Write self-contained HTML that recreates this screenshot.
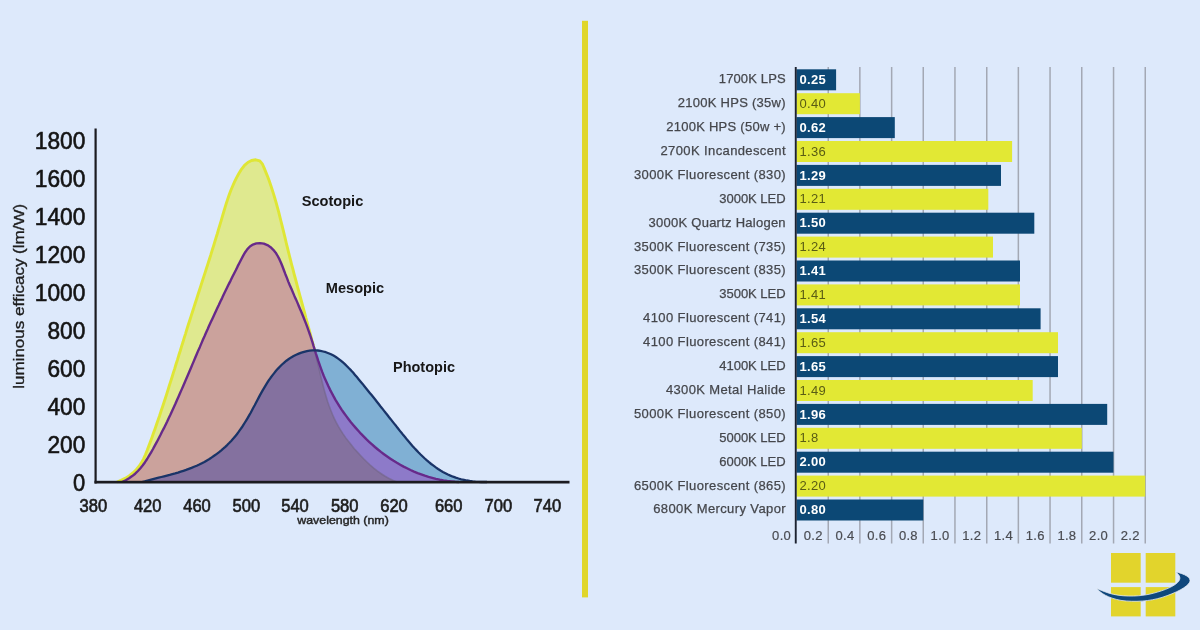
<!DOCTYPE html>
<html lang="en"><head><meta charset="utf-8">
<title>Luminous efficacy and S/P ratios</title>
<style>
html,body{margin:0;padding:0;background:#dde9fb;}
body{width:1200px;height:630px;overflow:hidden;}
svg{display:block;}
text{font-family:"Liberation Sans",sans-serif;}
.yl{font-size:23px;fill:#141414;text-anchor:end;stroke:#141414;stroke-width:0.6px;}
.xl{font-size:18px;fill:#1c1c1c;text-anchor:middle;stroke:#1c1c1c;stroke-width:0.65px;}
.cl{font-size:14.6px;font-weight:bold;fill:#171717;}
.bl{font-size:13px;fill:#45474c;text-anchor:end;stroke:#45474c;stroke-width:0.25px;}
.vn{font-size:13px;font-weight:bold;fill:#ffffff;letter-spacing:0.3px;}
.vy{font-size:13px;fill:#5a5c14;letter-spacing:0.3px;}
.al{font-size:13px;fill:#4a4c52;text-anchor:end;letter-spacing:0.3px;stroke:#4a4c52;stroke-width:0.2px;}
</style></head><body>
<svg width="1200" height="630" viewBox="0 0 1200 630">
<rect x="0" y="0" width="1200" height="630" fill="#dde9fb"/>
<defs>
<clipPath id="cs"><path d="M117.0,482.0 L121.0,480.4 L125.1,478.4 L129.1,475.9 L132.8,473.0 L136.2,469.8 L139.1,466.3 L141.5,462.6 L143.7,458.6 L145.5,454.5 L147.2,450.3 L148.8,446.0 L150.4,441.7 L152.0,437.4 L153.5,433.1 L155.0,428.9 L156.5,424.6 L158.0,420.3 L159.5,416.0 L160.9,411.6 L162.4,407.3 L163.8,403.0 L165.2,398.7 L166.6,394.4 L168.0,390.0 L169.3,385.7 L170.7,381.4 L172.1,377.0 L173.4,372.7 L174.8,368.4 L176.1,364.0 L177.5,359.7 L178.8,355.3 L180.2,351.0 L181.5,346.6 L182.9,342.3 L184.2,337.9 L185.6,333.6 L186.9,329.2 L188.3,324.8 L189.7,320.5 L191.1,316.1 L192.5,311.8 L193.9,307.4 L195.3,303.0 L196.7,298.7 L198.1,294.3 L199.5,290.0 L200.9,285.6 L202.3,281.3 L203.7,276.9 L205.1,272.6 L206.5,268.2 L207.9,263.9 L209.3,259.5 L210.7,255.2 L212.0,250.8 L213.4,246.5 L214.7,242.2 L216.0,237.8 L217.4,233.5 L218.6,229.2 L219.9,224.9 L221.2,220.6 L222.4,216.3 L223.7,212.0 L225.0,207.7 L226.3,203.4 L227.7,199.1 L229.2,194.8 L230.8,190.5 L232.6,186.2 L234.5,181.9 L236.6,177.6 L239.0,173.3 L241.6,169.1 L244.5,165.4 L247.8,162.5 L251.5,160.5 L255.7,159.8 L259.8,160.9 L262.5,164.2 L264.3,168.4 L266.0,172.6 L267.7,176.8 L269.3,181.1 L270.8,185.4 L272.2,189.8 L273.6,194.1 L274.9,198.5 L276.2,202.9 L277.4,207.3 L278.6,211.7 L279.7,216.1 L280.8,220.5 L281.9,224.9 L283.0,229.4 L284.1,233.8 L285.2,238.3 L286.2,242.7 L287.3,247.1 L288.4,251.6 L289.5,256.0 L290.6,260.4 L291.7,264.8 L292.9,269.2 L294.0,273.6 L295.2,278.0 L296.4,282.4 L297.5,286.8 L298.7,291.2 L299.9,295.6 L301.1,300.0 L302.3,304.4 L303.5,308.8 L304.7,313.2 L305.8,317.6 L307.0,321.9 L308.2,326.3 L309.4,330.7 L310.6,335.1 L311.7,339.6 L312.9,344.0 L314.0,348.4 L315.1,352.8 L316.2,357.2 L317.3,361.7 L318.4,366.1 L319.5,370.6 L320.5,375.1 L321.6,379.5 L322.7,384.0 L323.8,388.4 L325.0,392.8 L326.3,397.2 L327.6,401.5 L329.1,405.8 L330.7,410.0 L332.4,414.2 L334.2,418.3 L336.2,422.4 L338.4,426.4 L340.8,430.3 L343.2,434.1 L345.8,437.9 L348.6,441.5 L351.4,445.1 L354.3,448.7 L357.4,452.1 L360.5,455.5 L363.6,458.8 L366.9,462.0 L370.2,465.1 L373.7,468.1 L377.2,470.9 L380.9,473.5 L384.7,476.0 L388.6,478.2 L392.7,480.2 L397.0,482.0 Z"/></clipPath>
<clipPath id="cm"><path d="M122.0,482.0 L125.7,480.3 L129.1,478.3 L132.2,476.1 L135.2,473.7 L137.9,471.0 L140.4,468.2 L142.8,465.3 L145.0,462.2 L147.1,459.0 L149.1,455.7 L151.1,452.3 L153.0,449.0 L154.8,445.6 L156.7,442.2 L158.5,438.7 L160.3,435.3 L162.0,431.8 L163.8,428.4 L165.5,424.9 L167.2,421.4 L168.8,417.9 L170.5,414.4 L172.1,410.9 L173.8,407.3 L175.4,403.8 L176.9,400.2 L178.5,396.7 L180.1,393.1 L181.6,389.6 L183.2,386.0 L184.7,382.5 L186.2,378.9 L187.8,375.3 L189.3,371.8 L190.8,368.2 L192.3,364.6 L193.8,361.1 L195.3,357.5 L196.8,354.0 L198.3,350.4 L199.9,346.9 L201.4,343.4 L202.9,339.8 L204.5,336.3 L206.0,332.8 L207.6,329.3 L209.1,325.8 L210.7,322.3 L212.3,318.9 L213.9,315.4 L215.5,311.9 L217.1,308.5 L218.8,305.0 L220.4,301.5 L222.1,298.1 L223.7,294.6 L225.4,291.1 L227.1,287.6 L228.8,284.1 L230.6,280.6 L232.3,277.1 L234.1,273.5 L235.9,270.0 L237.6,266.4 L239.5,262.8 L241.3,259.2 L243.2,255.6 L245.2,252.2 L247.4,249.1 L249.9,246.5 L252.9,244.6 L256.3,243.4 L260.0,243.1 L263.8,243.6 L267.4,245.1 L270.6,247.2 L273.3,249.8 L275.7,252.7 L277.7,256.0 L279.5,259.4 L281.1,263.0 L282.6,266.8 L284.0,270.5 L285.4,274.2 L286.9,277.9 L288.3,281.6 L289.8,285.2 L291.4,288.8 L292.9,292.4 L294.4,295.9 L296.0,299.4 L297.5,302.9 L299.0,306.5 L300.5,310.0 L302.0,313.5 L303.4,317.0 L304.8,320.6 L306.2,324.1 L307.5,327.7 L308.8,331.3 L310.1,335.0 L311.3,338.7 L312.5,342.3 L313.6,346.1 L314.8,349.8 L315.9,353.5 L317.1,357.2 L318.3,360.9 L319.6,364.6 L320.9,368.3 L322.2,371.9 L323.6,375.5 L325.1,379.1 L326.7,382.6 L328.3,386.1 L330.0,389.6 L331.8,393.0 L333.6,396.4 L335.5,399.8 L337.5,403.1 L339.5,406.3 L341.6,409.6 L343.8,412.7 L346.1,415.9 L348.4,419.0 L350.7,422.0 L353.2,425.0 L355.7,427.9 L358.3,430.8 L360.9,433.7 L363.6,436.4 L366.3,439.2 L369.1,441.8 L372.0,444.4 L374.9,447.0 L377.9,449.5 L380.9,451.9 L384.0,454.2 L387.2,456.5 L390.4,458.7 L393.6,460.8 L396.9,462.8 L400.2,464.7 L403.6,466.6 L407.0,468.3 L410.5,470.0 L414.0,471.6 L417.6,473.1 L421.2,474.4 L424.8,475.7 L428.5,476.9 L432.2,477.9 L435.9,478.9 L439.7,479.7 L443.5,480.4 L447.3,481.0 L451.2,481.4 L455.1,481.8 L459.0,482.0 Z"/></clipPath>
<clipPath id="cp"><path d="M142.0,482.0 L144.7,481.3 L147.5,480.5 L150.2,479.8 L153.0,479.1 L155.8,478.4 L158.6,477.7 L161.3,477.0 L164.1,476.3 L166.9,475.6 L169.7,474.9 L172.4,474.1 L175.2,473.4 L178.0,472.6 L180.7,471.7 L183.4,470.8 L186.1,469.9 L188.8,468.9 L191.5,467.9 L194.1,466.8 L196.7,465.7 L199.3,464.5 L201.9,463.2 L204.4,461.9 L206.9,460.4 L209.4,459.0 L211.8,457.4 L214.1,455.8 L216.5,454.1 L218.8,452.4 L221.0,450.6 L223.2,448.7 L225.3,446.8 L227.4,444.8 L229.4,442.8 L231.4,440.7 L233.3,438.6 L235.1,436.4 L236.9,434.2 L238.6,431.9 L240.2,429.6 L241.9,427.3 L243.4,424.9 L244.9,422.5 L246.4,420.1 L247.9,417.6 L249.3,415.2 L250.7,412.7 L252.0,410.2 L253.3,407.7 L254.7,405.2 L256.0,402.7 L257.3,400.2 L258.7,397.6 L260.0,395.1 L261.4,392.6 L262.8,390.1 L264.3,387.6 L265.8,385.1 L267.3,382.7 L268.9,380.2 L270.6,377.8 L272.4,375.4 L274.2,373.1 L276.0,370.8 L278.0,368.6 L280.0,366.5 L282.0,364.5 L284.2,362.6 L286.4,360.7 L288.8,359.0 L291.2,357.4 L293.6,356.0 L296.2,354.7 L298.8,353.6 L301.4,352.6 L304.1,351.8 L306.9,351.1 L309.6,350.7 L312.4,350.4 L315.1,350.4 L317.8,350.5 L320.5,350.9 L323.2,351.5 L325.9,352.2 L328.5,353.2 L331.0,354.3 L333.5,355.6 L335.9,357.0 L338.2,358.6 L340.5,360.3 L342.7,362.2 L344.9,364.1 L347.0,366.2 L349.0,368.3 L351.1,370.4 L353.1,372.6 L355.0,374.9 L356.9,377.1 L358.8,379.4 L360.7,381.7 L362.6,383.9 L364.4,386.2 L366.2,388.4 L368.0,390.7 L369.8,392.9 L371.6,395.1 L373.4,397.3 L375.2,399.5 L376.9,401.7 L378.7,404.0 L380.4,406.2 L382.2,408.4 L383.9,410.6 L385.6,412.8 L387.4,415.0 L389.1,417.2 L390.9,419.4 L392.6,421.6 L394.4,423.9 L396.2,426.1 L397.9,428.3 L399.7,430.6 L401.5,432.8 L403.3,435.1 L405.2,437.3 L407.0,439.6 L408.9,441.8 L410.8,444.0 L412.7,446.2 L414.6,448.3 L416.6,450.4 L418.6,452.5 L420.6,454.5 L422.7,456.5 L424.8,458.5 L426.9,460.4 L429.0,462.2 L431.2,464.0 L433.5,465.7 L435.8,467.4 L438.1,469.0 L440.5,470.5 L442.9,471.9 L445.4,473.2 L447.9,474.5 L450.4,475.6 L453.1,476.7 L455.7,477.6 L458.5,478.5 L461.2,479.3 L464.0,479.9 L466.8,480.5 L469.7,481.0 L472.6,481.4 L475.4,481.7 L478.3,481.9 L481.2,482.0 L484.1,482.0 L487.0,482.0 Z"/></clipPath>
</defs>
<g>
<path d="M117.0,482.0 L121.0,480.4 L125.1,478.4 L129.1,475.9 L132.8,473.0 L136.2,469.8 L139.1,466.3 L141.5,462.6 L143.7,458.6 L145.5,454.5 L147.2,450.3 L148.8,446.0 L150.4,441.7 L152.0,437.4 L153.5,433.1 L155.0,428.9 L156.5,424.6 L158.0,420.3 L159.5,416.0 L160.9,411.6 L162.4,407.3 L163.8,403.0 L165.2,398.7 L166.6,394.4 L168.0,390.0 L169.3,385.7 L170.7,381.4 L172.1,377.0 L173.4,372.7 L174.8,368.4 L176.1,364.0 L177.5,359.7 L178.8,355.3 L180.2,351.0 L181.5,346.6 L182.9,342.3 L184.2,337.9 L185.6,333.6 L186.9,329.2 L188.3,324.8 L189.7,320.5 L191.1,316.1 L192.5,311.8 L193.9,307.4 L195.3,303.0 L196.7,298.7 L198.1,294.3 L199.5,290.0 L200.9,285.6 L202.3,281.3 L203.7,276.9 L205.1,272.6 L206.5,268.2 L207.9,263.9 L209.3,259.5 L210.7,255.2 L212.0,250.8 L213.4,246.5 L214.7,242.2 L216.0,237.8 L217.4,233.5 L218.6,229.2 L219.9,224.9 L221.2,220.6 L222.4,216.3 L223.7,212.0 L225.0,207.7 L226.3,203.4 L227.7,199.1 L229.2,194.8 L230.8,190.5 L232.6,186.2 L234.5,181.9 L236.6,177.6 L239.0,173.3 L241.6,169.1 L244.5,165.4 L247.8,162.5 L251.5,160.5 L255.7,159.8 L259.8,160.9 L262.5,164.2 L264.3,168.4 L266.0,172.6 L267.7,176.8 L269.3,181.1 L270.8,185.4 L272.2,189.8 L273.6,194.1 L274.9,198.5 L276.2,202.9 L277.4,207.3 L278.6,211.7 L279.7,216.1 L280.8,220.5 L281.9,224.9 L283.0,229.4 L284.1,233.8 L285.2,238.3 L286.2,242.7 L287.3,247.1 L288.4,251.6 L289.5,256.0 L290.6,260.4 L291.7,264.8 L292.9,269.2 L294.0,273.6 L295.2,278.0 L296.4,282.4 L297.5,286.8 L298.7,291.2 L299.9,295.6 L301.1,300.0 L302.3,304.4 L303.5,308.8 L304.7,313.2 L305.8,317.6 L307.0,321.9 L308.2,326.3 L309.4,330.7 L310.6,335.1 L311.7,339.6 L312.9,344.0 L314.0,348.4 L315.1,352.8 L316.2,357.2 L317.3,361.7 L318.4,366.1 L319.5,370.6 L320.5,375.1 L321.6,379.5 L322.7,384.0 L323.8,388.4 L325.0,392.8 L326.3,397.2 L327.6,401.5 L329.1,405.8 L330.7,410.0 L332.4,414.2 L334.2,418.3 L336.2,422.4 L338.4,426.4 L340.8,430.3 L343.2,434.1 L345.8,437.9 L348.6,441.5 L351.4,445.1 L354.3,448.7 L357.4,452.1 L360.5,455.5 L363.6,458.8 L366.9,462.0 L370.2,465.1 L373.7,468.1 L377.2,470.9 L380.9,473.5 L384.7,476.0 L388.6,478.2 L392.7,480.2 L397.0,482.0 Z" fill="#dfe98f"/>
<path d="M117.0,482.0 L121.0,480.4 L125.1,478.4 L129.1,475.9 L132.8,473.0 L136.2,469.8 L139.1,466.3 L141.5,462.6 L143.7,458.6 L145.5,454.5 L147.2,450.3 L148.8,446.0 L150.4,441.7 L152.0,437.4 L153.5,433.1 L155.0,428.9 L156.5,424.6 L158.0,420.3 L159.5,416.0 L160.9,411.6 L162.4,407.3 L163.8,403.0 L165.2,398.7 L166.6,394.4 L168.0,390.0 L169.3,385.7 L170.7,381.4 L172.1,377.0 L173.4,372.7 L174.8,368.4 L176.1,364.0 L177.5,359.7 L178.8,355.3 L180.2,351.0 L181.5,346.6 L182.9,342.3 L184.2,337.9 L185.6,333.6 L186.9,329.2 L188.3,324.8 L189.7,320.5 L191.1,316.1 L192.5,311.8 L193.9,307.4 L195.3,303.0 L196.7,298.7 L198.1,294.3 L199.5,290.0 L200.9,285.6 L202.3,281.3 L203.7,276.9 L205.1,272.6 L206.5,268.2 L207.9,263.9 L209.3,259.5 L210.7,255.2 L212.0,250.8 L213.4,246.5 L214.7,242.2 L216.0,237.8 L217.4,233.5 L218.6,229.2 L219.9,224.9 L221.2,220.6 L222.4,216.3 L223.7,212.0 L225.0,207.7 L226.3,203.4 L227.7,199.1 L229.2,194.8 L230.8,190.5 L232.6,186.2 L234.5,181.9 L236.6,177.6 L239.0,173.3 L241.6,169.1 L244.5,165.4 L247.8,162.5 L251.5,160.5 L255.7,159.8 L259.8,160.9 L262.5,164.2 L264.3,168.4 L266.0,172.6 L267.7,176.8 L269.3,181.1 L270.8,185.4 L272.2,189.8 L273.6,194.1 L274.9,198.5 L276.2,202.9 L277.4,207.3 L278.6,211.7 L279.7,216.1 L280.8,220.5 L281.9,224.9 L283.0,229.4 L284.1,233.8 L285.2,238.3 L286.2,242.7 L287.3,247.1 L288.4,251.6 L289.5,256.0 L290.6,260.4 L291.7,264.8 L292.9,269.2 L294.0,273.6 L295.2,278.0 L296.4,282.4 L297.5,286.8 L298.7,291.2 L299.9,295.6 L301.1,300.0 L302.3,304.4 L303.5,308.8 L304.7,313.2 L305.8,317.6 L307.0,321.9 L308.2,326.3 L309.4,330.7 L310.6,335.1 L311.7,339.6 L312.9,344.0 L314.0,348.4 L315.1,352.8 L316.2,357.2 L317.3,361.7 L318.4,366.1 L319.5,370.6 L320.5,375.1 L321.6,379.5 L322.7,384.0 L323.8,388.4 L325.0,392.8 L326.3,397.2 L327.6,401.5 L329.1,405.8 L330.7,410.0 L332.4,414.2 L334.2,418.3 L336.2,422.4 L338.4,426.4 L340.8,430.3 L343.2,434.1 L345.8,437.9 L348.6,441.5 L351.4,445.1 L354.3,448.7 L357.4,452.1 L360.5,455.5 L363.6,458.8 L366.9,462.0 L370.2,465.1 L373.7,468.1 L377.2,470.9 L380.9,473.5 L384.7,476.0 L388.6,478.2 L392.7,480.2 L397.0,482.0" fill="none" stroke="#dfe636" stroke-width="2.9" stroke-linejoin="round"/>
<path d="M122.0,482.0 L125.7,480.3 L129.1,478.3 L132.2,476.1 L135.2,473.7 L137.9,471.0 L140.4,468.2 L142.8,465.3 L145.0,462.2 L147.1,459.0 L149.1,455.7 L151.1,452.3 L153.0,449.0 L154.8,445.6 L156.7,442.2 L158.5,438.7 L160.3,435.3 L162.0,431.8 L163.8,428.4 L165.5,424.9 L167.2,421.4 L168.8,417.9 L170.5,414.4 L172.1,410.9 L173.8,407.3 L175.4,403.8 L176.9,400.2 L178.5,396.7 L180.1,393.1 L181.6,389.6 L183.2,386.0 L184.7,382.5 L186.2,378.9 L187.8,375.3 L189.3,371.8 L190.8,368.2 L192.3,364.6 L193.8,361.1 L195.3,357.5 L196.8,354.0 L198.3,350.4 L199.9,346.9 L201.4,343.4 L202.9,339.8 L204.5,336.3 L206.0,332.8 L207.6,329.3 L209.1,325.8 L210.7,322.3 L212.3,318.9 L213.9,315.4 L215.5,311.9 L217.1,308.5 L218.8,305.0 L220.4,301.5 L222.1,298.1 L223.7,294.6 L225.4,291.1 L227.1,287.6 L228.8,284.1 L230.6,280.6 L232.3,277.1 L234.1,273.5 L235.9,270.0 L237.6,266.4 L239.5,262.8 L241.3,259.2 L243.2,255.6 L245.2,252.2 L247.4,249.1 L249.9,246.5 L252.9,244.6 L256.3,243.4 L260.0,243.1 L263.8,243.6 L267.4,245.1 L270.6,247.2 L273.3,249.8 L275.7,252.7 L277.7,256.0 L279.5,259.4 L281.1,263.0 L282.6,266.8 L284.0,270.5 L285.4,274.2 L286.9,277.9 L288.3,281.6 L289.8,285.2 L291.4,288.8 L292.9,292.4 L294.4,295.9 L296.0,299.4 L297.5,302.9 L299.0,306.5 L300.5,310.0 L302.0,313.5 L303.4,317.0 L304.8,320.6 L306.2,324.1 L307.5,327.7 L308.8,331.3 L310.1,335.0 L311.3,338.7 L312.5,342.3 L313.6,346.1 L314.8,349.8 L315.9,353.5 L317.1,357.2 L318.3,360.9 L319.6,364.6 L320.9,368.3 L322.2,371.9 L323.6,375.5 L325.1,379.1 L326.7,382.6 L328.3,386.1 L330.0,389.6 L331.8,393.0 L333.6,396.4 L335.5,399.8 L337.5,403.1 L339.5,406.3 L341.6,409.6 L343.8,412.7 L346.1,415.9 L348.4,419.0 L350.7,422.0 L353.2,425.0 L355.7,427.9 L358.3,430.8 L360.9,433.7 L363.6,436.4 L366.3,439.2 L369.1,441.8 L372.0,444.4 L374.9,447.0 L377.9,449.5 L380.9,451.9 L384.0,454.2 L387.2,456.5 L390.4,458.7 L393.6,460.8 L396.9,462.8 L400.2,464.7 L403.6,466.6 L407.0,468.3 L410.5,470.0 L414.0,471.6 L417.6,473.1 L421.2,474.4 L424.8,475.7 L428.5,476.9 L432.2,477.9 L435.9,478.9 L439.7,479.7 L443.5,480.4 L447.3,481.0 L451.2,481.4 L455.1,481.8 L459.0,482.0 Z" fill="#cba29c"/>
<path d="M142.0,482.0 L144.7,481.3 L147.5,480.5 L150.2,479.8 L153.0,479.1 L155.8,478.4 L158.6,477.7 L161.3,477.0 L164.1,476.3 L166.9,475.6 L169.7,474.9 L172.4,474.1 L175.2,473.4 L178.0,472.6 L180.7,471.7 L183.4,470.8 L186.1,469.9 L188.8,468.9 L191.5,467.9 L194.1,466.8 L196.7,465.7 L199.3,464.5 L201.9,463.2 L204.4,461.9 L206.9,460.4 L209.4,459.0 L211.8,457.4 L214.1,455.8 L216.5,454.1 L218.8,452.4 L221.0,450.6 L223.2,448.7 L225.3,446.8 L227.4,444.8 L229.4,442.8 L231.4,440.7 L233.3,438.6 L235.1,436.4 L236.9,434.2 L238.6,431.9 L240.2,429.6 L241.9,427.3 L243.4,424.9 L244.9,422.5 L246.4,420.1 L247.9,417.6 L249.3,415.2 L250.7,412.7 L252.0,410.2 L253.3,407.7 L254.7,405.2 L256.0,402.7 L257.3,400.2 L258.7,397.6 L260.0,395.1 L261.4,392.6 L262.8,390.1 L264.3,387.6 L265.8,385.1 L267.3,382.7 L268.9,380.2 L270.6,377.8 L272.4,375.4 L274.2,373.1 L276.0,370.8 L278.0,368.6 L280.0,366.5 L282.0,364.5 L284.2,362.6 L286.4,360.7 L288.8,359.0 L291.2,357.4 L293.6,356.0 L296.2,354.7 L298.8,353.6 L301.4,352.6 L304.1,351.8 L306.9,351.1 L309.6,350.7 L312.4,350.4 L315.1,350.4 L317.8,350.5 L320.5,350.9 L323.2,351.5 L325.9,352.2 L328.5,353.2 L331.0,354.3 L333.5,355.6 L335.9,357.0 L338.2,358.6 L340.5,360.3 L342.7,362.2 L344.9,364.1 L347.0,366.2 L349.0,368.3 L351.1,370.4 L353.1,372.6 L355.0,374.9 L356.9,377.1 L358.8,379.4 L360.7,381.7 L362.6,383.9 L364.4,386.2 L366.2,388.4 L368.0,390.7 L369.8,392.9 L371.6,395.1 L373.4,397.3 L375.2,399.5 L376.9,401.7 L378.7,404.0 L380.4,406.2 L382.2,408.4 L383.9,410.6 L385.6,412.8 L387.4,415.0 L389.1,417.2 L390.9,419.4 L392.6,421.6 L394.4,423.9 L396.2,426.1 L397.9,428.3 L399.7,430.6 L401.5,432.8 L403.3,435.1 L405.2,437.3 L407.0,439.6 L408.9,441.8 L410.8,444.0 L412.7,446.2 L414.6,448.3 L416.6,450.4 L418.6,452.5 L420.6,454.5 L422.7,456.5 L424.8,458.5 L426.9,460.4 L429.0,462.2 L431.2,464.0 L433.5,465.7 L435.8,467.4 L438.1,469.0 L440.5,470.5 L442.9,471.9 L445.4,473.2 L447.9,474.5 L450.4,475.6 L453.1,476.7 L455.7,477.6 L458.5,478.5 L461.2,479.3 L464.0,479.9 L466.8,480.5 L469.7,481.0 L472.6,481.4 L475.4,481.7 L478.3,481.9 L481.2,482.0 L484.1,482.0 L487.0,482.0 Z" fill="#80b0d4"/>
<g clip-path="url(#cp)"><path d="M122.0,482.0 L125.7,480.3 L129.1,478.3 L132.2,476.1 L135.2,473.7 L137.9,471.0 L140.4,468.2 L142.8,465.3 L145.0,462.2 L147.1,459.0 L149.1,455.7 L151.1,452.3 L153.0,449.0 L154.8,445.6 L156.7,442.2 L158.5,438.7 L160.3,435.3 L162.0,431.8 L163.8,428.4 L165.5,424.9 L167.2,421.4 L168.8,417.9 L170.5,414.4 L172.1,410.9 L173.8,407.3 L175.4,403.8 L176.9,400.2 L178.5,396.7 L180.1,393.1 L181.6,389.6 L183.2,386.0 L184.7,382.5 L186.2,378.9 L187.8,375.3 L189.3,371.8 L190.8,368.2 L192.3,364.6 L193.8,361.1 L195.3,357.5 L196.8,354.0 L198.3,350.4 L199.9,346.9 L201.4,343.4 L202.9,339.8 L204.5,336.3 L206.0,332.8 L207.6,329.3 L209.1,325.8 L210.7,322.3 L212.3,318.9 L213.9,315.4 L215.5,311.9 L217.1,308.5 L218.8,305.0 L220.4,301.5 L222.1,298.1 L223.7,294.6 L225.4,291.1 L227.1,287.6 L228.8,284.1 L230.6,280.6 L232.3,277.1 L234.1,273.5 L235.9,270.0 L237.6,266.4 L239.5,262.8 L241.3,259.2 L243.2,255.6 L245.2,252.2 L247.4,249.1 L249.9,246.5 L252.9,244.6 L256.3,243.4 L260.0,243.1 L263.8,243.6 L267.4,245.1 L270.6,247.2 L273.3,249.8 L275.7,252.7 L277.7,256.0 L279.5,259.4 L281.1,263.0 L282.6,266.8 L284.0,270.5 L285.4,274.2 L286.9,277.9 L288.3,281.6 L289.8,285.2 L291.4,288.8 L292.9,292.4 L294.4,295.9 L296.0,299.4 L297.5,302.9 L299.0,306.5 L300.5,310.0 L302.0,313.5 L303.4,317.0 L304.8,320.6 L306.2,324.1 L307.5,327.7 L308.8,331.3 L310.1,335.0 L311.3,338.7 L312.5,342.3 L313.6,346.1 L314.8,349.8 L315.9,353.5 L317.1,357.2 L318.3,360.9 L319.6,364.6 L320.9,368.3 L322.2,371.9 L323.6,375.5 L325.1,379.1 L326.7,382.6 L328.3,386.1 L330.0,389.6 L331.8,393.0 L333.6,396.4 L335.5,399.8 L337.5,403.1 L339.5,406.3 L341.6,409.6 L343.8,412.7 L346.1,415.9 L348.4,419.0 L350.7,422.0 L353.2,425.0 L355.7,427.9 L358.3,430.8 L360.9,433.7 L363.6,436.4 L366.3,439.2 L369.1,441.8 L372.0,444.4 L374.9,447.0 L377.9,449.5 L380.9,451.9 L384.0,454.2 L387.2,456.5 L390.4,458.7 L393.6,460.8 L396.9,462.8 L400.2,464.7 L403.6,466.6 L407.0,468.3 L410.5,470.0 L414.0,471.6 L417.6,473.1 L421.2,474.4 L424.8,475.7 L428.5,476.9 L432.2,477.9 L435.9,478.9 L439.7,479.7 L443.5,480.4 L447.3,481.0 L451.2,481.4 L455.1,481.8 L459.0,482.0 Z" fill="#8d7ac9"/></g>
<g clip-path="url(#cp)"><g clip-path="url(#cm)"><path d="M117.0,482.0 L121.0,480.4 L125.1,478.4 L129.1,475.9 L132.8,473.0 L136.2,469.8 L139.1,466.3 L141.5,462.6 L143.7,458.6 L145.5,454.5 L147.2,450.3 L148.8,446.0 L150.4,441.7 L152.0,437.4 L153.5,433.1 L155.0,428.9 L156.5,424.6 L158.0,420.3 L159.5,416.0 L160.9,411.6 L162.4,407.3 L163.8,403.0 L165.2,398.7 L166.6,394.4 L168.0,390.0 L169.3,385.7 L170.7,381.4 L172.1,377.0 L173.4,372.7 L174.8,368.4 L176.1,364.0 L177.5,359.7 L178.8,355.3 L180.2,351.0 L181.5,346.6 L182.9,342.3 L184.2,337.9 L185.6,333.6 L186.9,329.2 L188.3,324.8 L189.7,320.5 L191.1,316.1 L192.5,311.8 L193.9,307.4 L195.3,303.0 L196.7,298.7 L198.1,294.3 L199.5,290.0 L200.9,285.6 L202.3,281.3 L203.7,276.9 L205.1,272.6 L206.5,268.2 L207.9,263.9 L209.3,259.5 L210.7,255.2 L212.0,250.8 L213.4,246.5 L214.7,242.2 L216.0,237.8 L217.4,233.5 L218.6,229.2 L219.9,224.9 L221.2,220.6 L222.4,216.3 L223.7,212.0 L225.0,207.7 L226.3,203.4 L227.7,199.1 L229.2,194.8 L230.8,190.5 L232.6,186.2 L234.5,181.9 L236.6,177.6 L239.0,173.3 L241.6,169.1 L244.5,165.4 L247.8,162.5 L251.5,160.5 L255.7,159.8 L259.8,160.9 L262.5,164.2 L264.3,168.4 L266.0,172.6 L267.7,176.8 L269.3,181.1 L270.8,185.4 L272.2,189.8 L273.6,194.1 L274.9,198.5 L276.2,202.9 L277.4,207.3 L278.6,211.7 L279.7,216.1 L280.8,220.5 L281.9,224.9 L283.0,229.4 L284.1,233.8 L285.2,238.3 L286.2,242.7 L287.3,247.1 L288.4,251.6 L289.5,256.0 L290.6,260.4 L291.7,264.8 L292.9,269.2 L294.0,273.6 L295.2,278.0 L296.4,282.4 L297.5,286.8 L298.7,291.2 L299.9,295.6 L301.1,300.0 L302.3,304.4 L303.5,308.8 L304.7,313.2 L305.8,317.6 L307.0,321.9 L308.2,326.3 L309.4,330.7 L310.6,335.1 L311.7,339.6 L312.9,344.0 L314.0,348.4 L315.1,352.8 L316.2,357.2 L317.3,361.7 L318.4,366.1 L319.5,370.6 L320.5,375.1 L321.6,379.5 L322.7,384.0 L323.8,388.4 L325.0,392.8 L326.3,397.2 L327.6,401.5 L329.1,405.8 L330.7,410.0 L332.4,414.2 L334.2,418.3 L336.2,422.4 L338.4,426.4 L340.8,430.3 L343.2,434.1 L345.8,437.9 L348.6,441.5 L351.4,445.1 L354.3,448.7 L357.4,452.1 L360.5,455.5 L363.6,458.8 L366.9,462.0 L370.2,465.1 L373.7,468.1 L377.2,470.9 L380.9,473.5 L384.7,476.0 L388.6,478.2 L392.7,480.2 L397.0,482.0 Z" fill="#84719f"/></g></g>
<g clip-path="url(#cp)"><path d="M117.0,482.0 L121.0,480.4 L125.1,478.4 L129.1,475.9 L132.8,473.0 L136.2,469.8 L139.1,466.3 L141.5,462.6 L143.7,458.6 L145.5,454.5 L147.2,450.3 L148.8,446.0 L150.4,441.7 L152.0,437.4 L153.5,433.1 L155.0,428.9 L156.5,424.6 L158.0,420.3 L159.5,416.0 L160.9,411.6 L162.4,407.3 L163.8,403.0 L165.2,398.7 L166.6,394.4 L168.0,390.0 L169.3,385.7 L170.7,381.4 L172.1,377.0 L173.4,372.7 L174.8,368.4 L176.1,364.0 L177.5,359.7 L178.8,355.3 L180.2,351.0 L181.5,346.6 L182.9,342.3 L184.2,337.9 L185.6,333.6 L186.9,329.2 L188.3,324.8 L189.7,320.5 L191.1,316.1 L192.5,311.8 L193.9,307.4 L195.3,303.0 L196.7,298.7 L198.1,294.3 L199.5,290.0 L200.9,285.6 L202.3,281.3 L203.7,276.9 L205.1,272.6 L206.5,268.2 L207.9,263.9 L209.3,259.5 L210.7,255.2 L212.0,250.8 L213.4,246.5 L214.7,242.2 L216.0,237.8 L217.4,233.5 L218.6,229.2 L219.9,224.9 L221.2,220.6 L222.4,216.3 L223.7,212.0 L225.0,207.7 L226.3,203.4 L227.7,199.1 L229.2,194.8 L230.8,190.5 L232.6,186.2 L234.5,181.9 L236.6,177.6 L239.0,173.3 L241.6,169.1 L244.5,165.4 L247.8,162.5 L251.5,160.5 L255.7,159.8 L259.8,160.9 L262.5,164.2 L264.3,168.4 L266.0,172.6 L267.7,176.8 L269.3,181.1 L270.8,185.4 L272.2,189.8 L273.6,194.1 L274.9,198.5 L276.2,202.9 L277.4,207.3 L278.6,211.7 L279.7,216.1 L280.8,220.5 L281.9,224.9 L283.0,229.4 L284.1,233.8 L285.2,238.3 L286.2,242.7 L287.3,247.1 L288.4,251.6 L289.5,256.0 L290.6,260.4 L291.7,264.8 L292.9,269.2 L294.0,273.6 L295.2,278.0 L296.4,282.4 L297.5,286.8 L298.7,291.2 L299.9,295.6 L301.1,300.0 L302.3,304.4 L303.5,308.8 L304.7,313.2 L305.8,317.6 L307.0,321.9 L308.2,326.3 L309.4,330.7 L310.6,335.1 L311.7,339.6 L312.9,344.0 L314.0,348.4 L315.1,352.8 L316.2,357.2 L317.3,361.7 L318.4,366.1 L319.5,370.6 L320.5,375.1 L321.6,379.5 L322.7,384.0 L323.8,388.4 L325.0,392.8 L326.3,397.2 L327.6,401.5 L329.1,405.8 L330.7,410.0 L332.4,414.2 L334.2,418.3 L336.2,422.4 L338.4,426.4 L340.8,430.3 L343.2,434.1 L345.8,437.9 L348.6,441.5 L351.4,445.1 L354.3,448.7 L357.4,452.1 L360.5,455.5 L363.6,458.8 L366.9,462.0 L370.2,465.1 L373.7,468.1 L377.2,470.9 L380.9,473.5 L384.7,476.0 L388.6,478.2 L392.7,480.2 L397.0,482.0" fill="none" stroke="#6f6283" stroke-opacity="0.55" stroke-width="1.6"/></g>
<path d="M122.0,482.0 L125.7,480.3 L129.1,478.3 L132.2,476.1 L135.2,473.7 L137.9,471.0 L140.4,468.2 L142.8,465.3 L145.0,462.2 L147.1,459.0 L149.1,455.7 L151.1,452.3 L153.0,449.0 L154.8,445.6 L156.7,442.2 L158.5,438.7 L160.3,435.3 L162.0,431.8 L163.8,428.4 L165.5,424.9 L167.2,421.4 L168.8,417.9 L170.5,414.4 L172.1,410.9 L173.8,407.3 L175.4,403.8 L176.9,400.2 L178.5,396.7 L180.1,393.1 L181.6,389.6 L183.2,386.0 L184.7,382.5 L186.2,378.9 L187.8,375.3 L189.3,371.8 L190.8,368.2 L192.3,364.6 L193.8,361.1 L195.3,357.5 L196.8,354.0 L198.3,350.4 L199.9,346.9 L201.4,343.4 L202.9,339.8 L204.5,336.3 L206.0,332.8 L207.6,329.3 L209.1,325.8 L210.7,322.3 L212.3,318.9 L213.9,315.4 L215.5,311.9 L217.1,308.5 L218.8,305.0 L220.4,301.5 L222.1,298.1 L223.7,294.6 L225.4,291.1 L227.1,287.6 L228.8,284.1 L230.6,280.6 L232.3,277.1 L234.1,273.5 L235.9,270.0 L237.6,266.4 L239.5,262.8 L241.3,259.2 L243.2,255.6 L245.2,252.2 L247.4,249.1 L249.9,246.5 L252.9,244.6 L256.3,243.4 L260.0,243.1 L263.8,243.6 L267.4,245.1 L270.6,247.2 L273.3,249.8 L275.7,252.7 L277.7,256.0 L279.5,259.4 L281.1,263.0 L282.6,266.8 L284.0,270.5 L285.4,274.2 L286.9,277.9 L288.3,281.6 L289.8,285.2 L291.4,288.8 L292.9,292.4 L294.4,295.9 L296.0,299.4 L297.5,302.9 L299.0,306.5 L300.5,310.0 L302.0,313.5 L303.4,317.0 L304.8,320.6 L306.2,324.1 L307.5,327.7 L308.8,331.3 L310.1,335.0 L311.3,338.7 L312.5,342.3 L313.6,346.1 L314.8,349.8 L315.9,353.5 L317.1,357.2 L318.3,360.9 L319.6,364.6 L320.9,368.3 L322.2,371.9 L323.6,375.5 L325.1,379.1 L326.7,382.6 L328.3,386.1 L330.0,389.6 L331.8,393.0 L333.6,396.4 L335.5,399.8 L337.5,403.1 L339.5,406.3 L341.6,409.6 L343.8,412.7 L346.1,415.9 L348.4,419.0 L350.7,422.0 L353.2,425.0 L355.7,427.9 L358.3,430.8 L360.9,433.7 L363.6,436.4 L366.3,439.2 L369.1,441.8 L372.0,444.4 L374.9,447.0 L377.9,449.5 L380.9,451.9 L384.0,454.2 L387.2,456.5 L390.4,458.7 L393.6,460.8 L396.9,462.8 L400.2,464.7 L403.6,466.6 L407.0,468.3 L410.5,470.0 L414.0,471.6 L417.6,473.1 L421.2,474.4 L424.8,475.7 L428.5,476.9 L432.2,477.9 L435.9,478.9 L439.7,479.7 L443.5,480.4 L447.3,481.0 L451.2,481.4 L455.1,481.8 L459.0,482.0" fill="none" stroke="#672a8a" stroke-width="2.4" stroke-linejoin="round"/>
<path d="M142.0,482.0 L144.7,481.3 L147.5,480.5 L150.2,479.8 L153.0,479.1 L155.8,478.4 L158.6,477.7 L161.3,477.0 L164.1,476.3 L166.9,475.6 L169.7,474.9 L172.4,474.1 L175.2,473.4 L178.0,472.6 L180.7,471.7 L183.4,470.8 L186.1,469.9 L188.8,468.9 L191.5,467.9 L194.1,466.8 L196.7,465.7 L199.3,464.5 L201.9,463.2 L204.4,461.9 L206.9,460.4 L209.4,459.0 L211.8,457.4 L214.1,455.8 L216.5,454.1 L218.8,452.4 L221.0,450.6 L223.2,448.7 L225.3,446.8 L227.4,444.8 L229.4,442.8 L231.4,440.7 L233.3,438.6 L235.1,436.4 L236.9,434.2 L238.6,431.9 L240.2,429.6 L241.9,427.3 L243.4,424.9 L244.9,422.5 L246.4,420.1 L247.9,417.6 L249.3,415.2 L250.7,412.7 L252.0,410.2 L253.3,407.7 L254.7,405.2 L256.0,402.7 L257.3,400.2 L258.7,397.6 L260.0,395.1 L261.4,392.6 L262.8,390.1 L264.3,387.6 L265.8,385.1 L267.3,382.7 L268.9,380.2 L270.6,377.8 L272.4,375.4 L274.2,373.1 L276.0,370.8 L278.0,368.6 L280.0,366.5 L282.0,364.5 L284.2,362.6 L286.4,360.7 L288.8,359.0 L291.2,357.4 L293.6,356.0 L296.2,354.7 L298.8,353.6 L301.4,352.6 L304.1,351.8 L306.9,351.1 L309.6,350.7 L312.4,350.4 L315.1,350.4 L317.8,350.5 L320.5,350.9 L323.2,351.5 L325.9,352.2 L328.5,353.2 L331.0,354.3 L333.5,355.6 L335.9,357.0 L338.2,358.6 L340.5,360.3 L342.7,362.2 L344.9,364.1 L347.0,366.2 L349.0,368.3 L351.1,370.4 L353.1,372.6 L355.0,374.9 L356.9,377.1 L358.8,379.4 L360.7,381.7 L362.6,383.9 L364.4,386.2 L366.2,388.4 L368.0,390.7 L369.8,392.9 L371.6,395.1 L373.4,397.3 L375.2,399.5 L376.9,401.7 L378.7,404.0 L380.4,406.2 L382.2,408.4 L383.9,410.6 L385.6,412.8 L387.4,415.0 L389.1,417.2 L390.9,419.4 L392.6,421.6 L394.4,423.9 L396.2,426.1 L397.9,428.3 L399.7,430.6 L401.5,432.8 L403.3,435.1 L405.2,437.3 L407.0,439.6 L408.9,441.8 L410.8,444.0 L412.7,446.2 L414.6,448.3 L416.6,450.4 L418.6,452.5 L420.6,454.5 L422.7,456.5 L424.8,458.5 L426.9,460.4 L429.0,462.2 L431.2,464.0 L433.5,465.7 L435.8,467.4 L438.1,469.0 L440.5,470.5 L442.9,471.9 L445.4,473.2 L447.9,474.5 L450.4,475.6 L453.1,476.7 L455.7,477.6 L458.5,478.5 L461.2,479.3 L464.0,479.9 L466.8,480.5 L469.7,481.0 L472.6,481.4 L475.4,481.7 L478.3,481.9 L481.2,482.0 L484.1,482.0 L487.0,482.0" fill="none" stroke="#1a3468" stroke-width="2.3" stroke-linejoin="round"/>
</g>
<rect x="94.5" y="128.5" width="2.2" height="355" fill="#1b1b20"/>
<rect x="94.5" y="480.8" width="475" height="2.7" fill="#1b1b20"/>
<text class="yl" x="85.3" y="149.3" textLength="50.5" lengthAdjust="spacingAndGlyphs">1800</text>
<text class="yl" x="85.3" y="187.2" textLength="50.5" lengthAdjust="spacingAndGlyphs">1600</text>
<text class="yl" x="85.3" y="225.2" textLength="50.5" lengthAdjust="spacingAndGlyphs">1400</text>
<text class="yl" x="85.3" y="263.2" textLength="50.5" lengthAdjust="spacingAndGlyphs">1200</text>
<text class="yl" x="85.3" y="301.1" textLength="50.5" lengthAdjust="spacingAndGlyphs">1000</text>
<text class="yl" x="85.3" y="339.1" textLength="37.8" lengthAdjust="spacingAndGlyphs">800</text>
<text class="yl" x="85.3" y="377.0" textLength="37.8" lengthAdjust="spacingAndGlyphs">600</text>
<text class="yl" x="85.3" y="415.0" textLength="37.8" lengthAdjust="spacingAndGlyphs">400</text>
<text class="yl" x="85.3" y="452.9" textLength="37.8" lengthAdjust="spacingAndGlyphs">200</text>
<text class="yl" x="85.3" y="490.9" textLength="12.2" lengthAdjust="spacingAndGlyphs">0</text>
<text class="xl" x="93.3" y="512.2" textLength="27.6" lengthAdjust="spacingAndGlyphs">380</text>
<text class="xl" x="147.7" y="512.2" textLength="27.6" lengthAdjust="spacingAndGlyphs">420</text>
<text class="xl" x="197.0" y="512.2" textLength="27.6" lengthAdjust="spacingAndGlyphs">460</text>
<text class="xl" x="246.3" y="512.2" textLength="27.6" lengthAdjust="spacingAndGlyphs">500</text>
<text class="xl" x="295.0" y="512.2" textLength="27.6" lengthAdjust="spacingAndGlyphs">540</text>
<text class="xl" x="344.7" y="512.2" textLength="27.6" lengthAdjust="spacingAndGlyphs">580</text>
<text class="xl" x="394.0" y="512.2" textLength="27.6" lengthAdjust="spacingAndGlyphs">620</text>
<text class="xl" x="448.7" y="512.2" textLength="27.6" lengthAdjust="spacingAndGlyphs">660</text>
<text class="xl" x="498.3" y="512.2" textLength="27.6" lengthAdjust="spacingAndGlyphs">700</text>
<text class="xl" x="547.3" y="512.2" textLength="27.6" lengthAdjust="spacingAndGlyphs">740</text>
<text x="297.3" y="524.2" font-size="11.8" fill="#262626" stroke="#262626" stroke-width="0.45" textLength="91.5" lengthAdjust="spacingAndGlyphs">wavelength (nm)</text>
<text transform="translate(23.8,388.8) rotate(-90)" font-size="15.3" fill="#1e1e1e" stroke="#1e1e1e" stroke-width="0.35" textLength="185" lengthAdjust="spacingAndGlyphs">luminous efficacy (lm/W)</text>
<text class="cl" x="301.7" y="205.8" textLength="61.6" lengthAdjust="spacingAndGlyphs">Scotopic</text>
<text class="cl" x="325.8" y="293.3" textLength="58.4" lengthAdjust="spacingAndGlyphs">Mesopic</text>
<text class="cl" x="393" y="371.8" textLength="62" lengthAdjust="spacingAndGlyphs">Photopic</text>
<rect x="582" y="20.8" width="6" height="576.6" fill="#e0d62a"/>
<rect x="827.5" y="67" width="1.5" height="476.5" fill="#a3a8b4"/>
<rect x="859.1" y="67" width="1.5" height="476.5" fill="#a3a8b4"/>
<rect x="890.9" y="67" width="1.5" height="476.5" fill="#a3a8b4"/>
<rect x="922.5" y="67" width="1.5" height="476.5" fill="#a3a8b4"/>
<rect x="954.2" y="67" width="1.5" height="476.5" fill="#a3a8b4"/>
<rect x="986.0" y="67" width="1.5" height="476.5" fill="#a3a8b4"/>
<rect x="1017.6" y="67" width="1.5" height="476.5" fill="#a3a8b4"/>
<rect x="1049.3" y="67" width="1.5" height="476.5" fill="#a3a8b4"/>
<rect x="1081.0" y="67" width="1.5" height="476.5" fill="#a3a8b4"/>
<rect x="1112.8" y="67" width="1.5" height="476.5" fill="#a3a8b4"/>
<rect x="1144.5" y="67" width="1.5" height="476.5" fill="#a3a8b4"/>
<rect x="796.5" y="69.3" width="39.6" height="21.0" fill="#0c4875"/>
<text class="bl" x="785.6" y="83.2" textLength="66.8" lengthAdjust="spacing">1700K LPS</text>
<text class="vn" x="799.6" y="83.9">0.25</text>
<rect x="796.5" y="93.2" width="63.4" height="21.0" fill="#e2e834"/>
<text class="bl" x="785.6" y="107.1" textLength="107.8" lengthAdjust="spacing">2100K HPS (35w)</text>
<text class="vy" x="799.6" y="107.8">0.40</text>
<rect x="796.5" y="117.1" width="98.3" height="21.0" fill="#0c4875"/>
<text class="bl" x="785.6" y="131.0" textLength="119.4" lengthAdjust="spacing">2100K HPS (50w +)</text>
<text class="vn" x="799.6" y="131.7">0.62</text>
<rect x="796.5" y="141.0" width="215.6" height="21.0" fill="#e2e834"/>
<text class="bl" x="785.6" y="154.9" textLength="125.1" lengthAdjust="spacing">2700K Incandescent</text>
<text class="vy" x="799.6" y="155.6">1.36</text>
<rect x="796.5" y="164.9" width="204.5" height="21.0" fill="#0c4875"/>
<text class="bl" x="785.6" y="178.8" textLength="151.7" lengthAdjust="spacing">3000K Fluorescent (830)</text>
<text class="vn" x="799.6" y="179.5">1.29</text>
<rect x="796.5" y="188.8" width="191.8" height="21.0" fill="#e2e834"/>
<text class="bl" x="785.6" y="202.7" textLength="66.3" lengthAdjust="spacing">3000K LED</text>
<text class="vy" x="799.6" y="203.4">1.21</text>
<rect x="796.5" y="212.7" width="237.8" height="21.0" fill="#0c4875"/>
<text class="bl" x="785.6" y="226.6" textLength="137.0" lengthAdjust="spacing">3000K Quartz Halogen</text>
<text class="vn" x="799.6" y="227.3">1.50</text>
<rect x="796.5" y="236.6" width="196.5" height="21.0" fill="#e2e834"/>
<text class="bl" x="785.6" y="250.5" textLength="151.7" lengthAdjust="spacing">3500K Fluorescent (735)</text>
<text class="vy" x="799.6" y="251.2">1.24</text>
<rect x="796.5" y="260.5" width="223.5" height="21.0" fill="#0c4875"/>
<text class="bl" x="785.6" y="274.4" textLength="151.7" lengthAdjust="spacing">3500K Fluorescent (835)</text>
<text class="vn" x="799.6" y="275.1">1.41</text>
<rect x="796.5" y="284.4" width="223.5" height="21.0" fill="#e2e834"/>
<text class="bl" x="785.6" y="298.3" textLength="66.3" lengthAdjust="spacing">3500K LED</text>
<text class="vy" x="799.6" y="299.0">1.41</text>
<rect x="796.5" y="308.3" width="244.1" height="21.0" fill="#0c4875"/>
<text class="bl" x="785.6" y="322.2" textLength="142.5" lengthAdjust="spacing">4100 Fluorescent (741)</text>
<text class="vn" x="799.6" y="322.9">1.54</text>
<rect x="796.5" y="332.2" width="261.5" height="21.0" fill="#e2e834"/>
<text class="bl" x="785.6" y="346.1" textLength="142.5" lengthAdjust="spacing">4100 Fluorescent (841)</text>
<text class="vy" x="799.6" y="346.8">1.65</text>
<rect x="796.5" y="356.1" width="261.5" height="21.0" fill="#0c4875"/>
<text class="bl" x="785.6" y="370.0" textLength="66.3" lengthAdjust="spacing">4100K LED</text>
<text class="vn" x="799.6" y="370.7">1.65</text>
<rect x="796.5" y="380.0" width="236.2" height="21.0" fill="#e2e834"/>
<text class="bl" x="785.6" y="393.9" textLength="119.7" lengthAdjust="spacing">4300K Metal Halide</text>
<text class="vy" x="799.6" y="394.6">1.49</text>
<rect x="796.5" y="403.9" width="310.7" height="21.0" fill="#0c4875"/>
<text class="bl" x="785.6" y="417.8" textLength="151.7" lengthAdjust="spacing">5000K Fluorescent (850)</text>
<text class="vn" x="799.6" y="418.5">1.96</text>
<rect x="796.5" y="427.8" width="285.3" height="21.0" fill="#e2e834"/>
<text class="bl" x="785.6" y="441.7" textLength="66.3" lengthAdjust="spacing">5000K LED</text>
<text class="vy" x="799.6" y="442.4">1.8</text>
<rect x="796.5" y="451.7" width="317.0" height="21.0" fill="#0c4875"/>
<text class="bl" x="785.6" y="465.6" textLength="66.3" lengthAdjust="spacing">6000K LED</text>
<text class="vn" x="799.6" y="466.3">2.00</text>
<rect x="796.5" y="475.6" width="348.7" height="21.0" fill="#e2e834"/>
<text class="bl" x="785.6" y="489.5" textLength="151.7" lengthAdjust="spacing">6500K Fluorescent (865)</text>
<text class="vy" x="799.6" y="490.2">2.20</text>
<rect x="796.5" y="499.5" width="126.8" height="21.0" fill="#0c4875"/>
<text class="bl" x="785.6" y="513.4" textLength="132.4" lengthAdjust="spacing">6800K Mercury Vapor</text>
<text class="vn" x="799.6" y="514.1">0.80</text>
<rect x="794.8" y="67" width="1.9" height="476.5" fill="#1c2230"/>
<text class="al" x="791.1" y="540">0.0</text>
<text class="al" x="822.8" y="540">0.2</text>
<text class="al" x="854.5" y="540">0.4</text>
<text class="al" x="886.2" y="540">0.6</text>
<text class="al" x="917.9" y="540">0.8</text>
<text class="al" x="949.6" y="540">1.0</text>
<text class="al" x="981.3" y="540">1.2</text>
<text class="al" x="1013.0" y="540">1.4</text>
<text class="al" x="1044.7" y="540">1.6</text>
<text class="al" x="1076.4" y="540">1.8</text>
<text class="al" x="1108.1" y="540">2.0</text>
<text class="al" x="1139.8" y="540">2.2</text>
<rect x="1111.0" y="553.0" width="29.7" height="29.7" fill="#e2d42c"/>
<rect x="1145.7" y="553.0" width="29.6" height="29.7" fill="#e2d42c"/>
<rect x="1111.0" y="587.1" width="29.7" height="29.3" fill="#e2d42c"/>
<rect x="1145.7" y="587.1" width="29.6" height="29.3" fill="#e2d42c"/>
<path d="M1096.8,588.2 C1100,593 1108,598 1121,600.4 C1135,602.3 1150,601.2 1162,597.4 C1176,592.8 1187,587.4 1189.8,582 C1191.5,577.5 1185,574 1175.3,571.8 C1180.5,575.3 1181.3,579 1177.5,582.6 C1172,587.8 1160,591.8 1149,594.3 C1136,597 1120,596.6 1109,593.2 C1103,591.2 1099,589.5 1096.8,588.2 Z" fill="#0f477c" stroke="#e3eaf2" stroke-width="0.8"/>
</svg></body></html>
